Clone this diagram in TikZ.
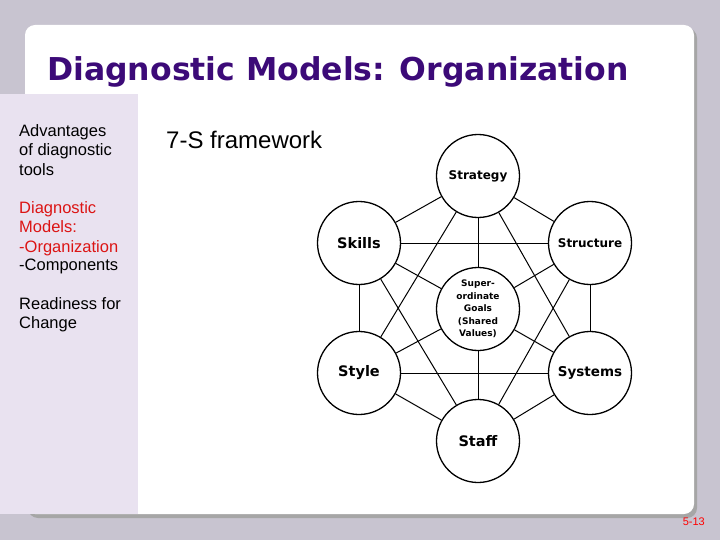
\documentclass[tikz,border=0pt]{standalone}
\usepackage{fontspec}
\setmainfont{Liberation Sans}
\newfontfamily\djv{DejaVu Sans}
\begin{document}
\begin{tikzpicture}[x=1pt,y=-1pt,
  sv/.style={circle,draw,line width=1.3pt,minimum size=83pt,inner sep=0pt,fill=white,font=\djv\bfseries\fontsize{12}{14}\selectfont,align=center},
  ln/.style={line width=1pt},
  side/.style={anchor=north west,align=left,inner sep=0pt,font=\fontsize{16.5}{19.5}\selectfont}]
\useasboundingbox (0,0) rectangle (720,540);
\fill[fill={rgb,255:red,200;green,196;blue,208}] (0,0) rectangle (720,540);
\fill[gray!70,rounded corners=10pt] (28,28) rectangle (697,518);
\fill[white,rounded corners=10pt] (25,25) rectangle (694,514);
\fill[fill={rgb,255:red,233;green,226;blue,240}] (0,94) rectangle (138,514);
\node[anchor=west,inner sep=0pt,text={rgb,255:red,60;green,10;blue,120},font=\djv\bfseries\fontsize{31.5}{36}\selectfont] (title) at (47,72) {Diagnostic Models: Organization};
\node[side] (t1) at (19,124) {Advantages\\of diagnostic\\tools};
\node[side,text={rgb,255:red,220;green,20;blue,20}] (t2) at (19,201) {Diagnostic\\Models:\\-Organization};
\node[side] (t3) at (19,259) {-Components};
\node[side] (t4) at (19,297) {Readiness for\\Change};
\node[anchor=west,inner sep=0pt,font=\fontsize{24}{28}\selectfont] (fw) at (166,140) {7-S framework};
\node[sv] (st) at (478,176) {Strategy};
\node[sv] (sk) at (359,243) {\fontsize{14.5}{16}\selectfont Skills};
\node[sv] (su) at (590,243) {Structure};
\node[sv] (sy) at (359,373) {\fontsize{14.5}{16}\selectfont Style};
\node[sv] (ss) at (590,373) {\fontsize{13.5}{16}\selectfont Systems};
\node[sv] (sf) at (478,441) {\fontsize{14.5}{16}\selectfont Staff};
\node[sv,font=\djv\bfseries\fontsize{9}{12.5}\selectfont] (c) at (478,309) {Super-\\ordinate\\Goals\\(Shared\\Values)};
\foreach \a/\b in {st/sk,st/su,sk/su,sk/sy,su/ss,sy/ss,sy/sf,ss/sf,st/sy,st/ss,sk/sf,su/sf,c/st,c/sk,c/su,c/sy,c/ss,c/sf}
  \draw[ln] (\a) -- (\b);
\node[anchor=east,inner sep=0pt,text=red,font=\fontsize{11}{12}\selectfont] (pg) at (705,522) {5-13};
\end{tikzpicture}
\end{document}
